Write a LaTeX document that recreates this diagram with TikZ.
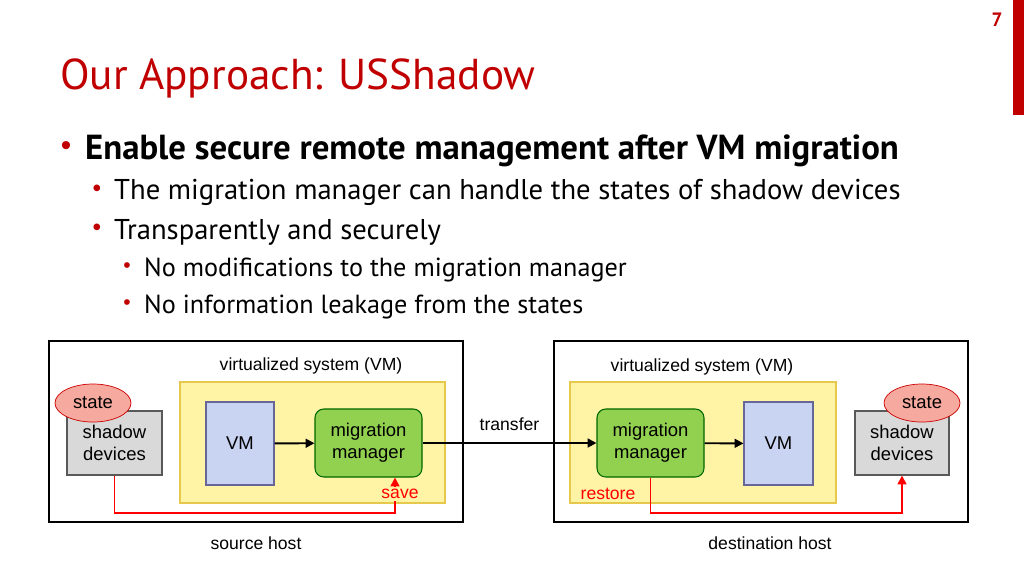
\documentclass[tikz,border=0pt]{standalone}
\usepackage{fontspec}
\setmainfont{Liberation Sans}
\newfontfamily\narrowf{PT Sans}
\usetikzlibrary{arrows.meta,shapes.geometric}
\definecolor{ttl}{HTML}{C00000}
\definecolor{yel}{HTML}{FFF3A6}
\definecolor{yelb}{HTML}{E6C84C}
\definecolor{vmb}{HTML}{C9D3F2}
\definecolor{grn}{HTML}{92D050}
\definecolor{stt}{HTML}{F6A99E}
\begin{document}
\begin{tikzpicture}[x=0.02cm,y=-0.02cm,
  host/.style={draw=black,line width=1.3pt},
  ybox/.style={draw=yelb,fill=yel,line width=0.6pt},
  vmbox/.style={draw=gray!80!blue,fill=vmb,line width=0.6pt},
  mmbox/.style={draw=green!40!black,fill=grn,rounded corners=5pt,line width=0.6pt,align=center,font=\fontsize{10.5}{12.5}\selectfont},
  sdbox/.style={draw=gray!70!black,fill=gray!30,line width=0.6pt,align=center,font=\fontsize{10.5}{12.5}\selectfont},
  stbox/.style={ellipse,draw=red!80!black,fill=stt,minimum width=2*38*0.02cm,minimum height=2*19*0.02cm,inner sep=0pt,font=\fontsize{10.5}{12}\selectfont},
  lbl/.style={font=\fontsize{10}{12}\selectfont},
  arr/.style={-{Triangle[length=5pt,width=5pt]},line width=1.1pt},
  rarr/.style={-{Triangle[length=5pt,width=5pt]},line width=1.1pt,red},
  bul/.style={anchor=west,font=\narrowf\fontsize{16.3}{19}\selectfont}]
\useasboundingbox (0,0) rectangle (1024,576);
\fill[ttl] (1013,0) rectangle (1024,115);
\node[ttl,font=\narrowf\bfseries\fontsize{11}{13}\selectfont] (pg) at (997,20) {7};
\node[anchor=west,ttl,font=\narrowf\fontsize{24.6}{29}\selectfont] (title) at (54,78) {Our Approach: USShadow};
\node[ttl,font=\fontsize{17}{17}\selectfont] (b1) at (66,149) {•};
\node[bul,font=\narrowf\bfseries\fontsize{19.8}{23}\selectfont] (t1) at (79,151) {Enable secure remote management after VM migration};
\node[ttl,font=\fontsize{14}{14}\selectfont] (b2) at (97,191) {•};
\node[bul] (t2) at (108,192) {The migration manager can handle the states of shadow devices};
\node[ttl,font=\fontsize{14}{14}\selectfont] (b3) at (97,230) {•};
\node[bul] (t3) at (108,232) {Transparently and securely};
\node[ttl,font=\fontsize{12}{12}\selectfont] (b4) at (127,268) {•};
\node[bul,font=\narrowf\fontsize{14.9}{17}\selectfont] (t4) at (138,270) {No modifications to the migration manager};
\node[ttl,font=\fontsize{12}{12}\selectfont] (b5) at (127,305) {•};
\node[bul,font=\narrowf\fontsize{14.9}{17}\selectfont] (t5) at (138,307) {No information leakage from the states};
% hosts
\draw[host] (49,341) rectangle (463,522);
\draw[host] (554,341) rectangle (968,522);
\draw[ybox] (180,382) rectangle (445,503);
\draw[ybox] (570,382) rectangle (836,503);
\node[lbl] (vs1) at (311,366) {virtualized system (VM)};
\node[lbl] (vs2) at (702,367) {virtualized system (VM)};
\node[vmbox,minimum width=68*0.02cm,minimum height=83*0.02cm,font=\fontsize{10.5}{12}\selectfont] (vm1) at (240,443.5) {VM};
\node[vmbox,minimum width=69*0.02cm,minimum height=83*0.02cm,font=\fontsize{10.5}{12}\selectfont] (vm2) at (778.5,443.5) {VM};
\node[mmbox,minimum width=107*0.02cm,minimum height=68*0.02cm] (mm1) at (368.5,443) {migration\\manager};
\node[mmbox,minimum width=107*0.02cm,minimum height=68*0.02cm] (mm2) at (650.5,443) {migration\\manager};
\node[sdbox,minimum width=95*0.02cm,minimum height=64*0.02cm] (sd1) at (114.5,443) {shadow\\devices};
\node[sdbox,minimum width=94*0.02cm,minimum height=64*0.02cm] (sd2) at (902,443) {shadow\\devices};
\node[stbox] (st1) at (93,403) {state};
\node[stbox] (st2) at (922,403) {state};
\draw[arr] (vm1) -- (mm1);
\draw[arr] (mm2) -- (vm2);
\draw[arr] (mm1) -- node[above=3pt,lbl] (tr) {transfer} (mm2);
\coordinate (c1) at (114.5,513);
\coordinate (c2) at (395,513);
\draw[rarr] (sd1.south) -- (c1) -- (c2) -- (mm1.south -| c2);
\coordinate (c3) at (650.5,513);
\coordinate (c4) at (902,513);
\draw[rarr] (mm2.south) -- (c3) -- (c4) -- (sd2.south);
\node[lbl,red,fill=yel,inner sep=1pt] (sv) at (400,494) {save};
\node[lbl,red] (rs) at (608,494) {restore};
\node[lbl] (sh) at (256,543) {source host};
\node[lbl] (dh) at (770,543) {destination host};
\end{tikzpicture}
\end{document}
